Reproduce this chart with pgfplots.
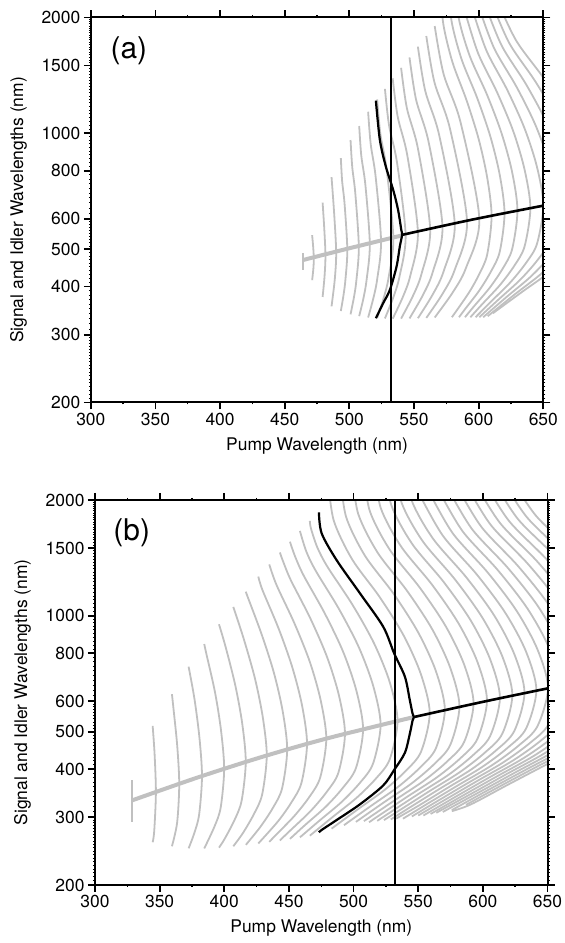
\documentclass[border=0pt]{standalone}
\usepackage{fontspec}
\setmainfont{TeX Gyre Heros}
\usepackage{pgfplots}
\pgfplotsset{compat=1.18}
\definecolor{lgray}{RGB}{192,192,192}
\newcommand{\lblfont}{\fontsize{17.5}{20}\selectfont}
\pgfplotsset{
  gc/.style={smooth, no marks, color=lgray, line width=1.8bp},
  spine/.style={smooth, no marks, color=lgray, line width=4bp},
  bk/.style={smooth, no marks, color=black, line width=2.2bp},
  panel/.style={
    scale only axis, width=452.5bp, height=385bp,
    xmin=300, xmax=650, ymin=200, ymax=2000,
    xtick={300,350,400,450,500,550,600,650},
    xticklabels={300,350,400,450,500,550,600,650},
    minor x tick num=1,
    ytick={200,300,400,500,600,800,1000,1500,2000},
    yticklabels={200,300,400,500,600,800,1000,1500,2000},
    minor ytick={205,210,215,220,225,230,235,240,245,250,255,260,265,270,275,280,285,290,295,
      310,320,330,340,350,360,370,380,390,410,420,430,440,450,460,470,480,490,
      510,520,530,540,550,560,570,580,590,620,640,660,680,700,720,740,760,780,
      820,840,860,880,900,920,940,960,980,
      1025,1050,1075,1100,1125,1150,1175,1200,1225,1250,1275,1300,1325,1350,1375,1400,1425,1450,1475,
      1525,1550,1575,1600,1625,1650,1675,1700,1725,1750,1775,1800,1825,1850,1875,1900,1925,1950,1975},
    tick align=outside, major tick length=7bp, minor tick length=2bp,
    tick style={line width=1.8bp, black},
    minor y tick style={line width=0.9bp},
    minor x tick style={line width=1.4bp},
    axis line style={line width=2bp},
    axis on top,
    tick label style={font=\lblfont},
    label style={font=\lblfont},
    xlabel={Pump Wavelength (nm)},
    ylabel={Signal and Idler Wavelengths (nm)},
    xlabel style={at={(axis description cs:0.5,-0.112)}, anchor=center},
    ylabel style={at={(axis description cs:-0.16,0.5)}, anchor=center},
  }
}
\begin{document}
\begin{tikzpicture}
% ---------------- panel (a) ----------------
\begin{axis}[ymode=log, panel, at={(90.8bp,540.5bp)}, anchor=south west]
\addplot[gc] coordinates {(464.3,442) (464.3,488)};
\addplot[gc] coordinates {(471.2,415.6) (472.1,443.2) (472.5,472.5) (472,507) (471.2,544)};
\addplot[gc] coordinates {(479.3,376) (480.8,425.5) (481.5,481.5) (480.6,564.2) (479.3,661)};
\addplot[gc] coordinates {(486.2,355.3) (488.7,417.2) (489.8,489.8) (488.3,614.2) (486.2,770)};
\addplot[gc] coordinates {(493.4,345.6) (495.4,378.9) (496.9,415.1) (498.4,498.4) (496.3,655.4) (494.4,751.6) (493.4,862)};
\addplot[gc] coordinates {(500.9,338.7) (503.5,374.6) (505.4,414.5) (507.3,507.3) (504.6,698.2) (502.2,819) (500.9,961)};
\addplot[gc] coordinates {(507.6,335.2) (510.9,373.2) (513.3,415.8) (515.8,515.8) (512.4,733.9) (509.2,875.9) (507.6,1045)};
\addplot[gc] coordinates {(514.5,332.4) (518.5,372.4) (521.5,417.6) (524.5,524.5) (520.3,772.7) (516.5,937.7) (514.5,1138)};
\addplot[gc] coordinates {(521.5,331.3) (526.5,373.2) (530.25,420.5) (534,534) (528.75,809) (524,995.7) (521.5,1225)};
\addplot[gc] coordinates {(527.5,330.6) (533.9,374.3) (538.7,423.8) (543.5,543.5) (536.8,842.2) (530.7,1048.5) (527.5,1305)};
\addplot[gc] coordinates {(533.5,330.1) (541.3,375.5) (547.15,427.2) (553,553) (544.8,876.8) (537.4,1103.9) (533.5,1390)};
\addplot[gc] coordinates {(540,330.3) (549,377.3) (555.75,431) (562.5,562.5) (553.05,912.5) (544.5,1162.3) (540,1480)};
\addplot[gc] coordinates {(546.5,330.6) (556.7,379.2) (564.35,434.8) (572,572) (561.3,949.3) (551.6,1222.9) (546.5,1575)};
\addplot[gc] coordinates {(553,331) (564.4,381.2) (572.95,438.7) (581.5,581.5) (569.5,988.4) (558.7,1288.6) (553,1680)};
\addplot[gc] coordinates {(559.5,331.6) (572.1,383.2) (581.55,442.7) (591,591) (577.8,1028.7) (565.8,1357) (559.5,1790)};
\addplot[gc] coordinates {(566,332.5) (579.8,385.6) (590.15,446.9) (600.5,600.5) (586,1068) (572.9,1424.7) (566,1900)};
\addplot[gc] coordinates {(579.3,333) (592.3,384.9) (600.6,431.8) (606.6,484.5) (610,610) (606.6,767.9) (600,966.8) (590.7,1217.1) (579.7,1532.3) (572.6,1929) (570.5,2428.5)};
\addplot[gc] coordinates {(584.8,333) (589.2,348.6) (600.6,391.2) (609.7,438.9) (616.3,492.5) (620,620) (616.3,780.5) (609,982.6) (598.8,1237.1) (586.8,1557.4) (579,1960.6) (576.7,2468.3)};
\addplot[gc] coordinates {(589.4,333) (596,354.2) (608.6,397.5) (618.7,446) (625.9,500.4) (630,630) (625.9,793.1) (617.8,998.5) (606.6,1257) (593.3,1582.5) (584.6,1992.2) (582.1,2508)};
\addplot[gc] coordinates {(593.6,333) (602.7,359.9) (616.5,403.8) (627.6,453.1) (635.5,508.4) (640,640) (635.5,805.7) (626.7,1014.3) (614.3,1277) (599.8,1607.6) (590.3,2023.9)};
\addplot[gc] coordinates {(597.6,333) (609.5,365.5) (624.5,410.2) (636.5,460.1) (645.1,516.3) (650,650) (645.1,818.3) (635.5,1030.2) (622.1,1296.9) (606.3,1632.7) (596,2055.5)};
\addplot[gc] coordinates {(600.5,333) (615.7,371.1) (632.1,416.5) (645.2,467.2) (654.7,524.2) (660,660) (654.7,830.9) (644.2,1046) (629.5,1316.9) (612.2,1657.9) (601,2087.1)};
\addplot[gc] coordinates {(603.5,333) (621.9,376.7) (639.7,422.8) (654,474.3) (664.2,532.2) (670,670) (664.2,843.5) (652.8,1061.9) (636.9,1336.9) (618.1,1683) (605.9,2118.7)};
\addplot[gc] coordinates {(607,335) (628.2,382.4) (647.4,429.1) (662.7,481.4) (673.8,540.1) (680,680) (673.8,856.1) (661.5,1077.7) (644.3,1356.8) (624,1708.1) (610.9,2150.4)};
\addplot[gc] coordinates {(611,341) (633.8,388) (654.6,435.4) (671.3,488.5) (683.2,548.1) (690,690) (683.2,868.6) (669.9,1093.6) (651.3,1376.8) (629.4,1733.2) (615.1,2182)};
\addplot[spine] coordinates {(464.3,469) (500,503) (540.5,543)};
\addplot[bk] coordinates {(520.5,1216) (523.6,961) (528.2,820) (533.9,713) (537.7,632) (540.2,560) (540.8,545) (539,508) (536.5,451) (531.3,392) (526.1,362) (520.5,331)};
\addplot[bk, line width=2.6bp] coordinates {(540.8,545) (595,597) (650,649)};
\addplot[black, line width=1.8bp] coordinates {(532,200) (532,2000)};
\node[font=\fontsize{30}{32}\selectfont] at (axis cs:329.5,1640) {(a)};
\end{axis}
% ---------------- panel (b) ----------------
\begin{axis}[ymode=log, panel, at={(95bp,58bp)}, anchor=south west]
\addplot[gc] coordinates {(328.6,292) (328.6,375)};
\addplot[gc] coordinates {(344.6,258.2) (345.8,275.7) (347.1,347.1) (346.1,437) (344.6,518)};
\addplot[gc] coordinates {(359.5,252.1) (363.5,290) (365.15,365.15) (363.6,459.7) (360.6,578.7) (359.5,626)};
\addplot[gc] coordinates {(372.4,249) (376.5,270.9) (380.5,304) (382.75,382.75) (380.8,481.8) (377,606.6) (372.4,738)};
\addplot[gc] coordinates {(384.5,248.9) (392.3,283.1) (397.2,317.6) (399.9,399.9) (397.5,503.4) (392.8,633.8) (386.1,797.9) (384.5,845)};
\addplot[gc] coordinates {(395.9,250) (400.1,262.9) (407.9,294.9) (413.4,330.9) (416.6,416.6) (413.9,524.5) (408.5,660.3) (401,831.2) (395.9,951)};
\addplot[gc] coordinates {(407,252.1) (414.5,273.1) (423.1,306.4) (429.3,343.8) (432.85,432.85) (429.8,544.9) (423.8,686) (415.4,863.7) (407,1055)};
\addplot[gc] coordinates {(416.7,254.3) (427.9,283.1) (437.7,317.6) (444.7,356.4) (448.65,448.65) (445.2,564.8) (438.4,711.1) (428.9,895.2) (417.8,1127) (416.7,1154)};
\addplot[gc] coordinates {(426.3,256.3) (441.6,292.8) (452.1,328.5) (459.7,368.6) (464,464) (460.2,584.1) (452.6,735.4) (442.1,925.8) (429.6,1165.5) (426.3,1265)};
\addplot[gc] coordinates {(434.8,258.8) (439.7,269.3) (454.2,302.2) (465.9,339) (474.2,380.4) (478.9,478.9) (474.6,602.9) (466.2,759) (454.3,955.6) (440.4,1203) (434.8,1360)};
\addplot[gc] coordinates {(443,261.1) (451.2,277.4) (466.8,311.3) (479.3,349.2) (488.3,391.9) (493.35,493.35) (488.7,621.1) (479.5,781.9) (466.6,984.4) (451.4,1239.2) (445.3,1390.5) (443,1461)};
\addplot[gc] coordinates {(450.8,263.5) (462,285.3) (478.8,320.1) (492.2,359.2) (501.9,403) (507.35,507.35) (502.2,638.7) (492.1,804.1) (477.9,1012.3) (461.3,1274.4) (454.65,1429.9) (450.8,1558)};
\addplot[gc] coordinates {(458.5,265.9) (473.1,292.9) (490.8,328.7) (505,368.7) (515.1,413.7) (520.9,520.9) (515.3,655.8) (504.3,825.6) (488.9,1039.3) (470.8,1308.4) (463.5,1468) (458.5,1662)};
\addplot[gc] coordinates {(466.2,268.6) (483.8,300.3) (502.4,337) (517.3,378) (528,424.2) (534,534) (528,672.3) (516,846.3) (499.4,1065.5) (479.8,1341.4) (472,1505) (467,1688.7) (466.2,1764)};
\addplot[gc] coordinates {(483,280.1) (503.2,314.3) (523.8,352.7) (540.3,395.6) (552.2,443.9) (558.9,558.9) (552.2,703.6) (539,885.8) (520.5,1115.2) (498.8,1403.9) (484.7,1767.4) (480.5,2225)};
\addplot[gc] coordinates {(492.6,286) (513.4,320.8) (534.6,360) (551.5,403.9) (563.7,453.2) (570.6,570.6) (563.7,718.3) (550.1,904.3) (531.2,1138.5) (508.8,1433.3) (494.3,1804.4) (490,2271.6)};
\addplot[gc] coordinates {(501.8,291.6) (523.1,327.2) (544.9,367.2) (562.3,411.9) (574.8,462.2) (581.9,581.9) (574.8,732.6) (560.9,922.3) (541.4,1161.1) (518.5,1461.7) (503.6,1840.1) (499.2,2316.6)};
\addplot[gc] coordinates {(508,293) (532.6,333.3) (554.9,374.1) (572.7,419.6) (585.6,470.9) (592.8,592.8) (585.6,746.3) (571.3,939.5) (551.3,1182.8) (527.8,1489) (512.5,1874.6) (508.1,2360)};
\addplot[gc] coordinates {(512,291) (519.2,302.3) (541.6,339.2) (564.4,380.6) (582.7,427) (595.8,479.1) (603.2,603.2) (595.8,759.4) (581.2,956) (560.8,1203.6) (536.7,1515.2) (521,1907.5) (516.5,2401.4)};
\addplot[gc] coordinates {(518.3,293.5) (527.4,307.3) (550.2,344.8) (573.6,386.9) (592.2,434.1) (605.6,487.1) (613.2,613.2) (605.6,772) (590.7,971.9) (569.8,1223.5) (545.2,1540.3) (529.2,1939.1) (524.6,2441.2)};
\addplot[gc] coordinates {(523.5,294.8) (535.2,312.1) (558.5,350.2) (582.3,393) (601.4,440.9) (615.1,494.7) (622.8,622.8) (615.1,784) (599.8,987.1) (578.5,1242.7) (553.4,1564.4) (537.1,1969.5) (532.4,2479.4)};
\addplot[gc] coordinates {(528.8,296) (542.8,316.9) (566.6,355.5) (590.9,398.9) (610.3,447.5) (624.3,502.2) (632.2,632.2) (624.3,795.9) (608.8,1002) (587,1261.4) (561.4,1588) (544.8,1999.2) (539.9,2516.9)};
\addplot[gc] coordinates {(533,297.5) (550.4,321.5) (574.6,360.7) (599.3,404.7) (619.1,454.1) (633.4,509.5) (641.4,641.4) (633.4,807.5) (617.5,1016.6) (595.4,1279.8) (569.3,1611.1) (552.3,2028.3)};
\addplot[gc] coordinates {(538.2,297.3) (557.7,326) (582.4,365.7) (607.6,410.4) (627.7,460.4) (642.2,516.6) (650.4,650.4) (642.2,818.8) (626.1,1030.8) (603.6,1297.8) (577,1633.8) (559.8,2056.8)};
\addplot[gc] coordinates {(545.1,301.3) (564.9,330.4) (590,370.7) (615.6,416) (636.1,466.6) (650.9,523.6) (659.2,659.2) (650.9,829.9) (634.5,1044.8) (611.5,1315.3) (584.5,1655.8) (567,2084.6)};
\addplot[gc] coordinates {(550,303) (571.9,334.7) (597.4,375.5) (623.5,421.4) (644.3,472.7) (659.3,530.4) (667.8,667.8) (659.3,840.7) (642.7,1058.4) (619.3,1332.5) (591.8,1677.4) (574,2111.8)};
\addplot[gc] coordinates {(554,303) (578.9,339) (604.8,380.3) (631.3,426.7) (652.5,478.8) (667.7,537.2) (676.3,676.3) (667.7,851.4) (650.7,1071.9) (627,1349.4) (599.1,1698.8) (581,2138.7)};
\addplot[gc] coordinates {(559.6,305.9) (585.7,343.2) (612.1,385) (639,432) (660.5,484.7) (676,543.9) (684.7,684.7) (676,862) (658.7,1085.2) (634.7,1366.2) (606.3,1719.9) (587.9,2165.2)};
\addplot[gc] coordinates {(564,308) (592.5,347.3) (619.2,389.7) (646.6,437.3) (668.4,490.6) (684.1,550.5) (693,693) (684.1,872.4) (666.6,1098.3) (642.2,1382.7) (613.4,1740.7) (594.6,2191.5)};
\addplot[gc] coordinates {(569,309.5) (599.2,351.4) (626.4,394.3) (654.1,442.5) (676.3,496.4) (692.2,557) (701.2,701.2) (692.2,882.7) (674.4,1111.3) (649.6,1399.1) (620.4,1761.3) (601.4,2217.4)};
\addplot[gc] coordinates {(576,313) (605.8,355.5) (633.4,398.8) (661.5,447.6) (684,502.1) (700.2,563.4) (709.3,709.3) (700.2,892.9) (682.2,1124.2) (657,1415.3) (627.3,1781.7) (608.1,2243)};
\addplot[gc] coordinates {(587,323) (612.3,359.5) (640.3,403.3) (668.8,452.6) (691.6,507.8) (708,569.8) (717.3,717.3) (708,903) (689.8,1136.8) (664.3,1431.2) (634.2,1801.8) (614.6,2268.3)};
\addplot[gc] coordinates {(576,311) (590.8,323.9) (618.8,363.5) (647.2,407.8) (676.1,457.6) (699.2,513.4) (715.8,576) (725.2,725.2) (715.8,913) (697.3,1149.4) (671.4,1447) (641,1821.6) (621.2,2293.3)};
\addplot[spine] coordinates {(329,332) (380,381) (430,431) (480,481) (546.6,546)};
\addplot[bk] coordinates {(473.2,1858) (475.3,1639) (486.8,1397) (504.9,1145) (522.9,937.5) (531.4,799) (539.7,695) (543.5,604) (545.6,558) (546.6,546) (545.6,534) (543.5,494) (539.7,441) (531.4,398) (522.9,362.6) (504.9,323.9) (486.8,294.8) (475.3,277.9) (473.2,274)};
\addplot[bk, line width=2.6bp] coordinates {(546.6,546) (600,598) (650,648)};
\addplot[black, line width=1.8bp] coordinates {(532,200) (532,2000)};
\node[font=\fontsize{30}{32}\selectfont] at (axis cs:328.4,1640) {(b)};
\end{axis}
\pgfresetboundingbox
\path (0bp,0bp) rectangle (565bp,943bp);
\end{tikzpicture}
\end{document}
